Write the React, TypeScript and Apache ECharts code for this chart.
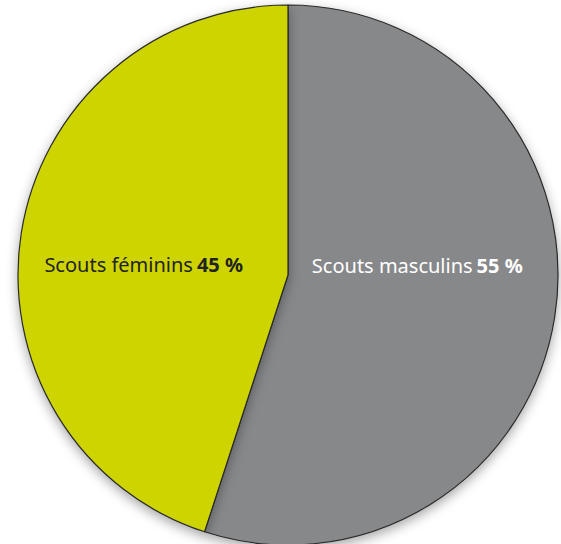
import React, { useEffect, useRef } from "react";
import * as echarts from "echarts";

const categories = ["Scouts masculins", "Scouts féminins"];
const values = [55, 45];
const colors = ["#87888a", "#cdd400"];
const labelColors = ["#ffffff", "#222222"];

export default function App() {
  const ref = useRef<HTMLDivElement>(null);
  useEffect(() => {
    document.body.style.margin = "0";
    const chart = echarts.init(ref.current!, null, { renderer: "svg" });
    chart.setOption({
      animation: false,
      series: [
        {
          type: "pie",
          center: [288, 275],
          radius: 270,
          startAngle: 90,
          clockwise: true,
          data: categories.map((name, i) => ({
            name,
            value: values[i],
            itemStyle: { color: colors[i] },
            label: {
              rich: {
                n: { color: labelColors[i], fontSize: 20, fontFamily: "Noto Sans" },
                b: {
                  color: labelColors[i],
                  fontSize: 20,
                  fontWeight: "bold",
                  fontFamily: "Noto Sans",
                  padding: [0, 0, 0, 4],
                },
              },
            },
          })),
          itemStyle: {
            borderColor: "#2a2a2a",
            borderWidth: 1.2,
            shadowBlur: 12,
            shadowColor: "rgba(0,0,0,0.35)",
            shadowOffsetY: 4,
          },
          label: {
            show: true,
            position: "inside",
            formatter: (p: any) => `{n|${p.name}}{b|${p.value} %}`,
          },
          labelLayout: (p: any) =>
            p.dataIndex === 0 ? { dx: -7, dy: -31 } : { dx: -8, dy: 11 },
          emphasis: { disabled: true },
        },
      ],
    });
    return () => chart.dispose();
  }, []);
  return <div ref={ref} style={{ width: 561, height: 544 }} />;
}
